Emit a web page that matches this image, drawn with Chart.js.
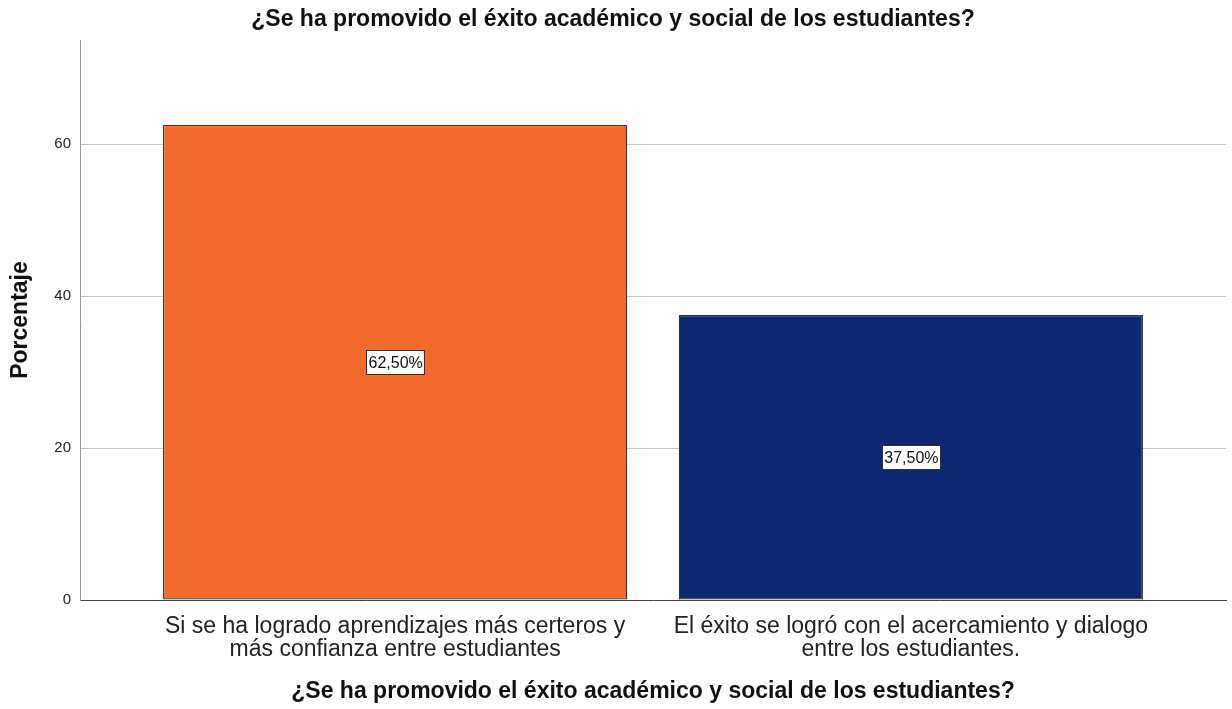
<!DOCTYPE html>
<html><head><meta charset="utf-8">
<script src="https://cdn.jsdelivr.net/npm/chart.js@4"></script>
<style>html,body{margin:0;padding:0;background:#fff}#wrap{width:1232px;height:709px;position:relative}</style>
</head><body><div id="wrap"><canvas id="c"></canvas></div>
<script>
const categories = [
  ["Si se ha logrado aprendizajes más certeros y", "más confianza entre estudiantes"],
  ["El éxito se logró con el acercamiento y dialogo", "entre los estudiantes."]
];
const percentages = [62.5, 37.5];
const barColors = ["#F26A2C", "#0B2870"];
const yTickStep = 20;
const yMax = 73.7;
const chartTitle = "¿Se ha promovido el éxito académico y social de los estudiantes?";
const xTitle = "¿Se ha promovido el éxito académico y social de los estudiantes?";
const yTitle = "Porcentaje";

const FONT = 'Arial, "Liberation Sans", sans-serif';

const valueLabelPlugin = {
  id: 'valueLabels',
  afterDatasetsDraw(chart) {
    const ctx = chart.ctx;
    const meta = chart.getDatasetMeta(0);
    ctx.save();
    ctx.font = '16px ' + FONT;
    ctx.textAlign = 'center';
    ctx.textBaseline = 'middle';
    meta.data.forEach((bar, i) => {
      const p = bar.getProps(['x', 'y', 'base'], true);
      const cy = (p.y + p.base) / 2;
      const t = percentages[i].toFixed(2).replace('.', ',') + '%';
      const w = Math.round(ctx.measureText(t).width + 4);
      const h = 24;
      const lx = Math.round(p.x - w / 2), ty = Math.round(cy - h / 2);
      ctx.fillStyle = '#fff';
      ctx.fillRect(lx, ty, w, h);
      ctx.strokeStyle = '#333';
      ctx.lineWidth = 1;
      ctx.strokeRect(lx + 0.5, ty + 0.5, w, h);
      ctx.fillStyle = '#111';
      ctx.fillText(t, p.x + 0.5, cy + 1);
    });
    ctx.restore();
  }
};

new Chart(document.getElementById('c'), {
  type: 'bar',
  data: {
    datasets: [{
      data: percentages.map((v, i) => ({ x: i, y: v })),
      backgroundColor: barColors,
      borderColor: '#333',
      borderWidth: 1.2,
      borderSkipped: false,
      categoryPercentage: 1,
      barPercentage: 0.9
    }]
  },
  options: {
    responsive: true,
    maintainAspectRatio: false,
    animation: false,
    layout: { padding: { left: 0, right: 6, top: 0, bottom: 0 } },
    plugins: {
      legend: { display: false },
      tooltip: { enabled: false },
      title: {
        display: true,
        text: chartTitle,
        color: '#111',
        font: { family: FONT, size: 23, weight: 'bold', lineHeight: 1.2 },
        padding: { top: 6, bottom: 6.4 }
      }
    },
    scales: {
      x: {
        type: 'linear',
        min: -0.611,
        max: 1.611,
        bounds: 'data',
        offset: false,
        afterBuildTicks: (s) => { s.ticks = categories.map((c, i) => ({ value: i })); },
        afterFit: (s) => { s.height = 109; },
        grid: { display: false, drawTicks: false, offset: false },
        border: { display: true, color: '#444', width: 1 },
        ticks: {
          autoSkip: false,
          maxRotation: 0,
          minRotation: 0,
          padding: 15,
          color: '#222',
          font: { family: FONT, size: 23, lineHeight: 1.0 },
          callback: (v) => categories[v]
        },
        title: {
          display: true,
          text: xTitle,
          color: '#111',
          font: { family: FONT, size: 23, weight: 'bold', lineHeight: 1.2 },
          padding: { top: 0, bottom: 4 }
        }
      },
      y: {
        min: 0,
        max: yMax,
        bounds: 'data',
        afterFit: (s) => { s.width = 80; },
        grid: {
          drawTicks: false,
          color: (c) => (c.tick && c.tick.value === 0) ? 'rgba(0,0,0,0)' : '#c4c4c4',
          lineWidth: 1
        },
        border: { display: true, color: '#999', width: 1 },
        ticks: {
          stepSize: yTickStep,
          includeBounds: false,
          padding: 9,
          color: '#222',
          font: { family: FONT, size: 15 }
        },
        title: {
          display: true,
          text: yTitle,
          color: '#111',
          font: { family: FONT, size: 23, weight: 'bold', lineHeight: 1.2 },
          padding: { top: 7, bottom: 0 }
        }
      }
    }
  },
  plugins: [valueLabelPlugin]
});
</script>
</body></html>
